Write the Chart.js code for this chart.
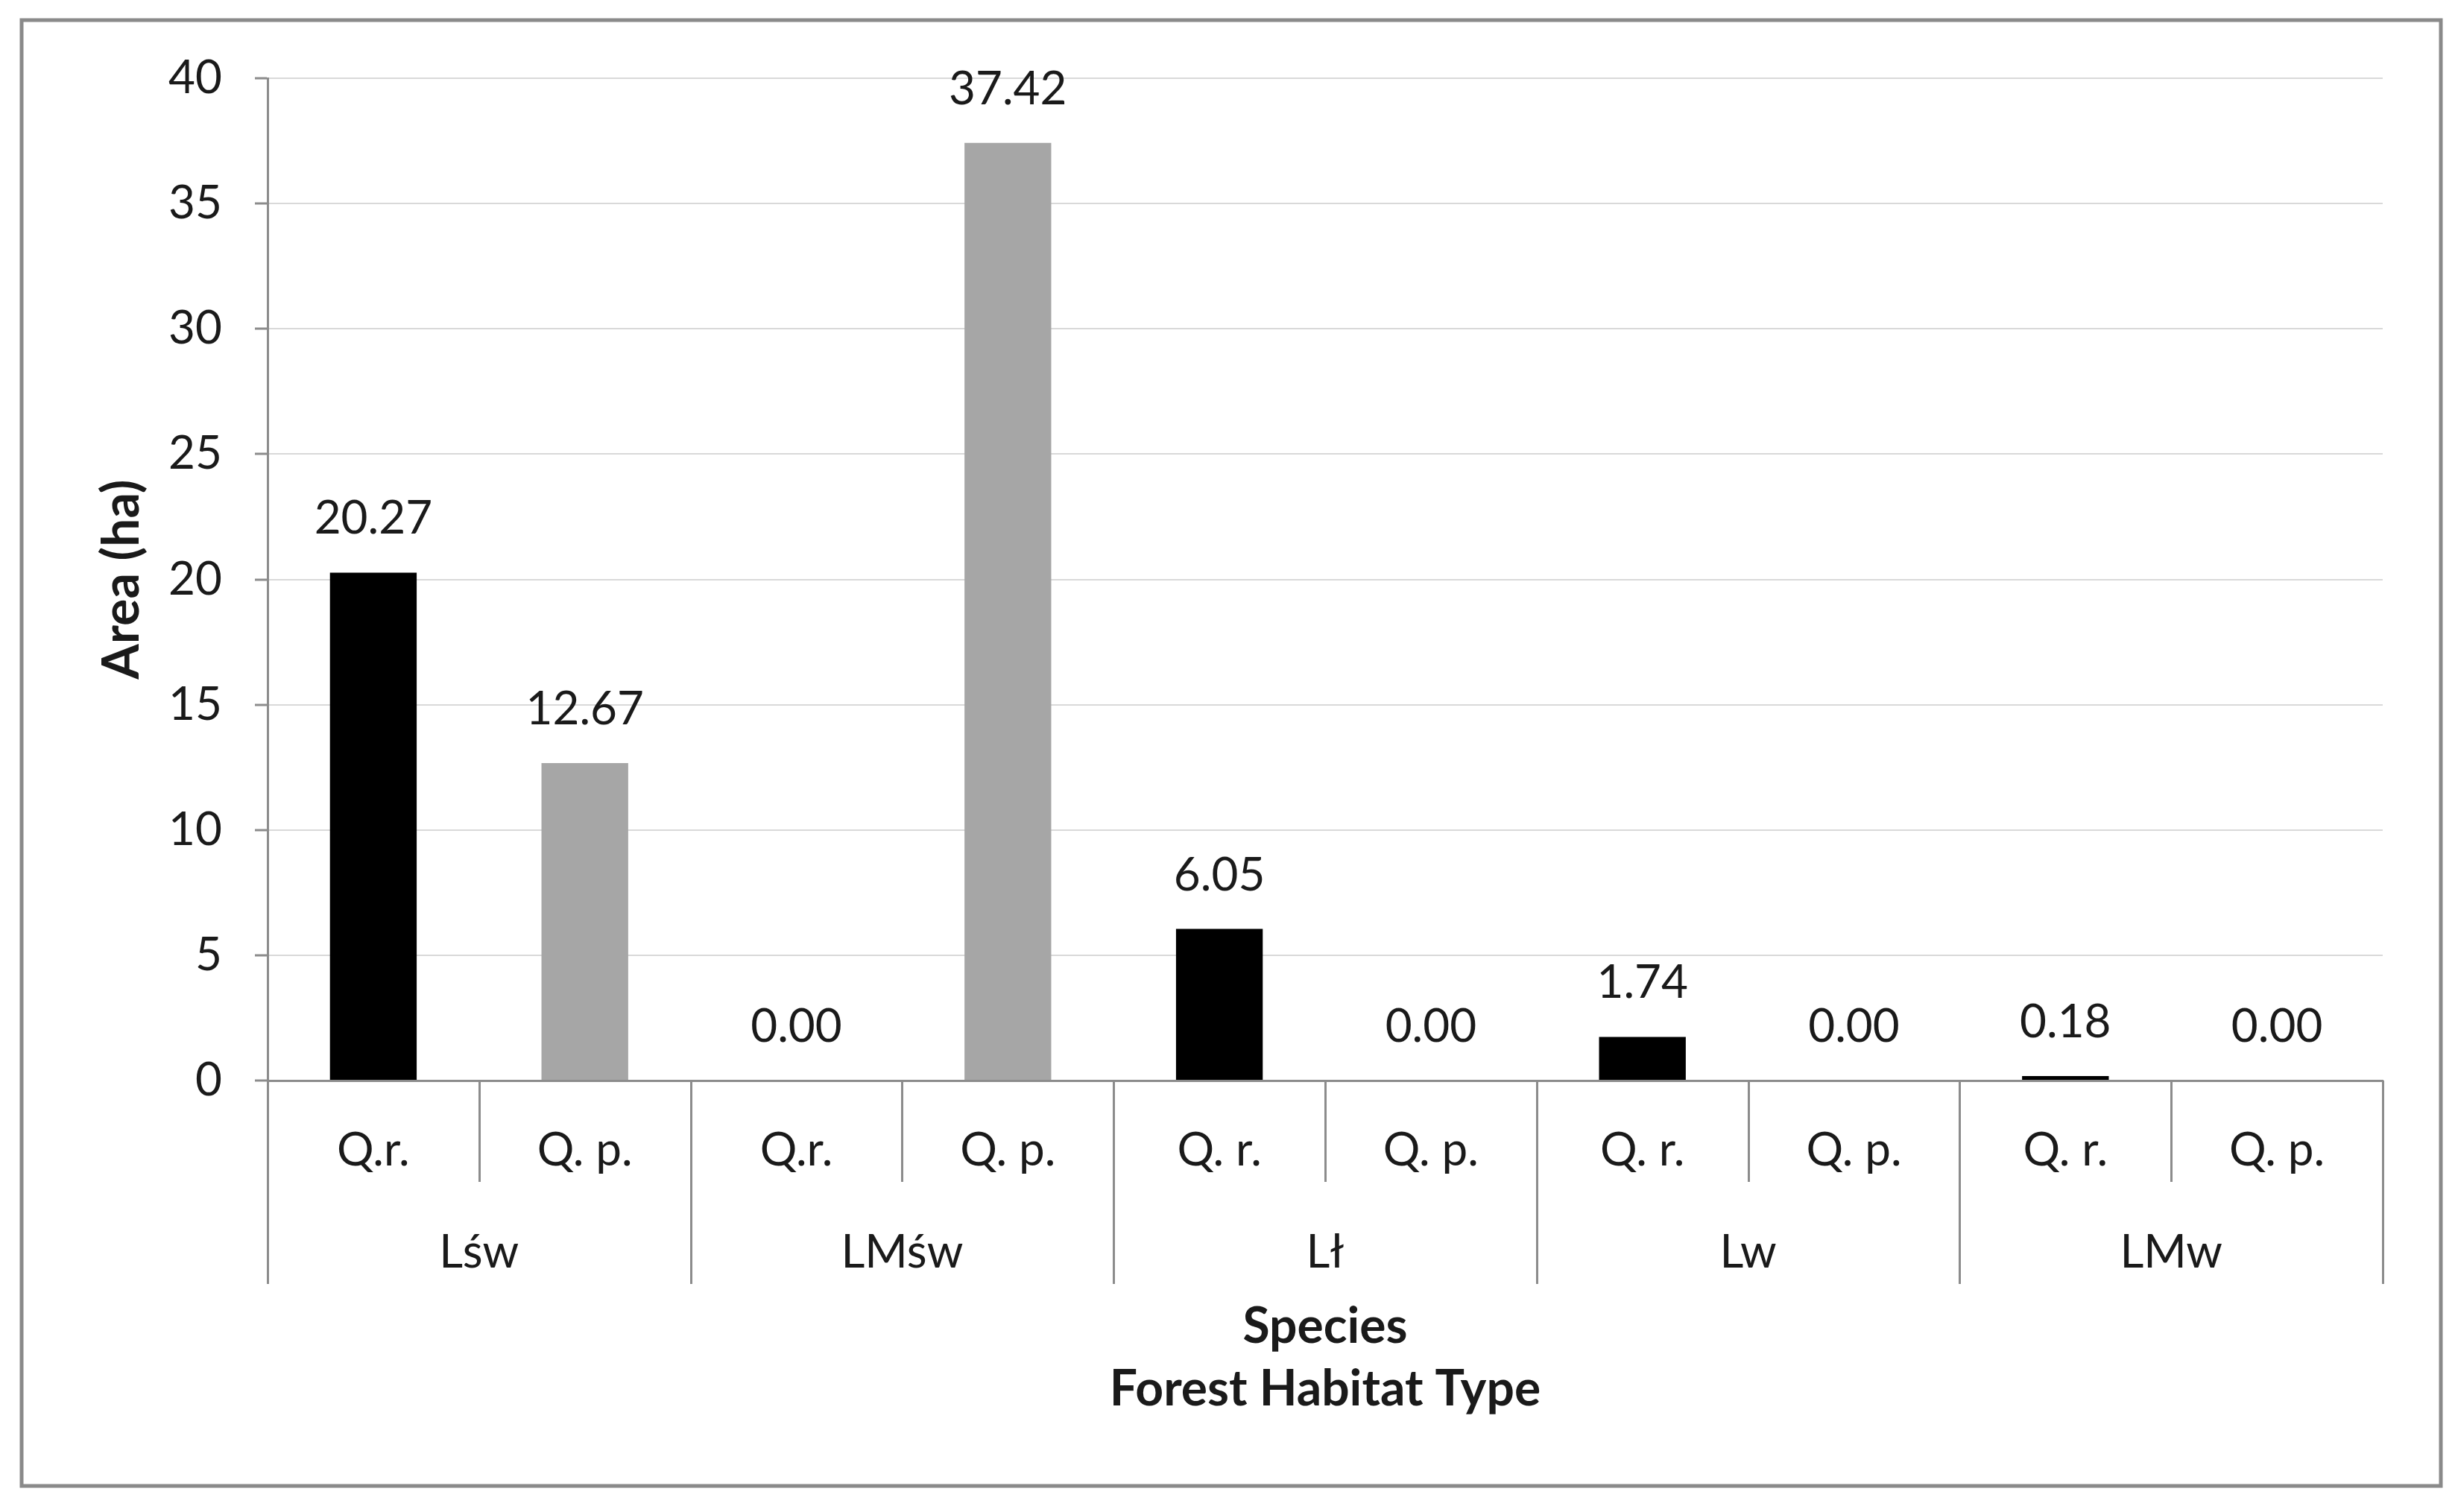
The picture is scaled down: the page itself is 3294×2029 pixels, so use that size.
<!DOCTYPE html>
<html><head><meta charset="utf-8">
<script src="https://cdn.jsdelivr.net/npm/chart.js@4.4.0/dist/chart.umd.min.js"></script>
<style>html,body{margin:0;padding:0;background:#fff;overflow:hidden}#wrap{width:3294px;height:2029px}</style>
</head><body><div id="wrap"><canvas id="c" width="3294" height="2029"></canvas></div>
<script>
const speciesLabels = ['Q.r.', 'Q. p.', 'Q.r.', 'Q. p.', 'Q. r.', 'Q. p.', 'Q. r.', 'Q. p.', 'Q. r.', 'Q. p.'];
const speciesKind = ['Qr', 'Qp', 'Qr', 'Qp', 'Qr', 'Qp', 'Qr', 'Qp', 'Qr', 'Qp'];
const habitatGroups = ['Lśw', 'LMśw', 'Lł', 'Lw', 'LMw'];
const areaValues = [20.27, 12.67, 0.00, 37.42, 6.05, 0.00, 1.74, 0.00, 0.18, 0.00];
const yMin = 0, yMax = 40, yStep = 5;
const kindColors = { Qr: '#000000', Qp: '#a6a6a6' };

const FONT = 'Lato, "Open Sans", sans-serif';
const TXT = '#1a1a1a';
const LINE = '#8c8c8c';

const decor = {
  id: 'decor',
  beforeDraw(chart) {
    const ctx = chart.ctx;
    ctx.save();
    ctx.fillStyle = '#ffffff';
    ctx.fillRect(0, 0, chart.width, chart.height);
    ctx.restore();
  },
  afterDraw(chart) {
    const ctx = chart.ctx;
    const xs = chart.scales.x;
    const ca = chart.chartArea;
    const n = speciesLabels.length;
    const per = n / habitatGroups.length;
    const half = (xs.getPixelForValue(1) - xs.getPixelForValue(0)) / 2;
    ctx.save();
    ctx.strokeStyle = LINE;
    ctx.lineWidth = 3;
    for (let i = 0; i <= n; i++) {
      const px = i < n ? xs.getPixelForValue(i) - half : xs.getPixelForValue(n - 1) + half;
      const depth = (i % per === 0) ? 273 : 136;
      ctx.beginPath();
      ctx.moveTo(Math.round(px) + 0.5, ca.bottom);
      ctx.lineTo(Math.round(px) + 0.5, ca.bottom + depth);
      ctx.stroke();
    }
    ctx.fillStyle = TXT;
    ctx.font = '62px ' + FONT;
    ctx.textAlign = 'center';
    ctx.textBaseline = 'middle';
    speciesLabels.forEach((s, i) => ctx.fillText(s, xs.getPixelForValue(i), ca.bottom + 94));
    habitatGroups.forEach((g, gi) => {
      const cx = (xs.getPixelForValue(gi * per) + xs.getPixelForValue(gi * per + per - 1)) / 2;
      ctx.fillText(g, cx, ca.bottom + 231);
    });
    const meta = chart.getDatasetMeta(0);
    meta.data.forEach((el, i) => {
      ctx.fillText(areaValues[i].toFixed(2), el.x, el.y - 72);
    });
    ctx.strokeStyle = '#8a8a8a';
    ctx.lineWidth = 5;
    ctx.strokeRect(29, 27, 3246, 1967);
    ctx.restore();
  }
};

new Chart(document.getElementById('c'), {
  type: 'bar',
  data: {
    labels: speciesLabels,
    datasets: [{
      data: areaValues,
      backgroundColor: speciesKind.map(k => kindColors[k]),
      borderWidth: 0,
      barPercentage: 0.41,
      categoryPercentage: 1.0
    }]
  },
  options: {
    responsive: false,
    animation: false,
    devicePixelRatio: 1,
    layout: { padding: { top: 105, right: 97, left: 0, bottom: 0 } },
    plugins: { legend: { display: false }, tooltip: { enabled: false } },
    scales: {
      x: {
        grid: { display: false },
        border: { display: true, color: LINE, width: 3 },
        ticks: { display: false },
        title: {
          display: true,
          text: ['Species', 'Forest Habitat Type'],
          color: TXT,
          font: { family: FONT, size: 66, weight: 'bold', lineHeight: 1.273 },
          padding: { top: 0, bottom: 122 }
        },
        afterFit(scale) { scale.height = 579; }
      },
      y: {
        min: yMin, max: yMax,
        ticks: { stepSize: yStep, color: TXT, padding: 44, font: { family: FONT, size: 62 } },
        grid: { color: '#d9d9d9', lineWidth: 2, tickColor: LINE, tickLength: 17, tickWidth: 3 },
        border: { display: true, color: LINE, width: 3 },
        title: {
          display: true,
          text: 'Area (ha)',
          color: TXT,
          font: { family: FONT, size: 68, weight: 'bold', lineHeight: 1.2 },
          padding: { top: 123, bottom: 0 }
        },
        afterFit(scale) { scale.width = 359; }
      }
    }
  },
  plugins: [decor]
});
</script></body></html>
